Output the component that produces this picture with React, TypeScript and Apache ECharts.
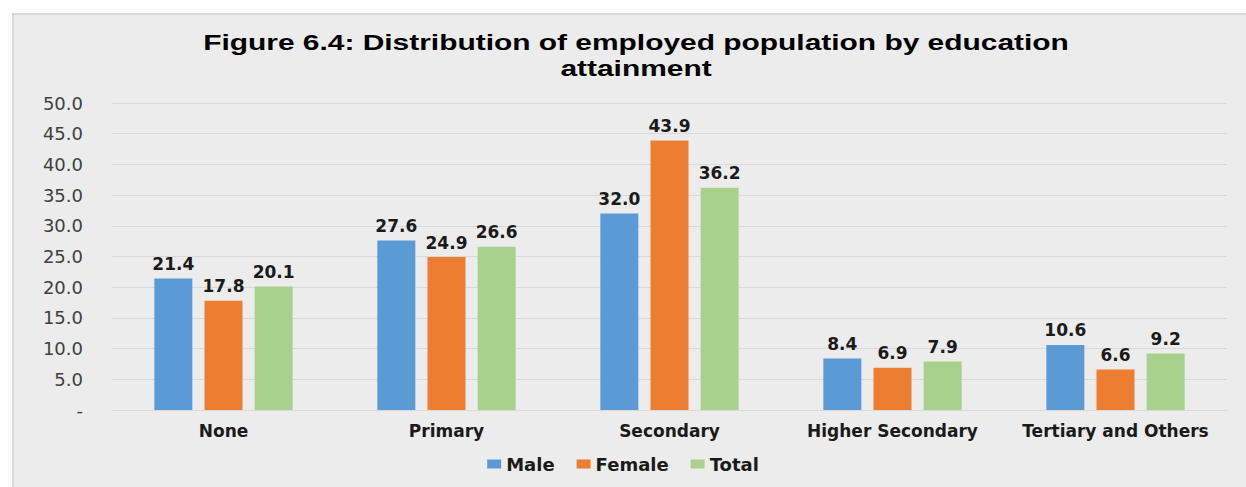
import React, { useEffect, useRef } from "react";
import * as echarts from "echarts";

const categories = ["None", "Primary", "Secondary", "Higher Secondary", "Tertiary and Others"];
const male = [21.4, 27.6, 32.0, 8.4, 10.6];
const female = [17.8, 24.9, 43.9, 6.9, 6.6];
const total = [20.1, 26.6, 36.2, 7.9, 9.2];
const seriesNames = ["Male", "Female", "Total"];
const colors = ["#5b9bd5", "#ed7d31", "#a9d18e"];
const titleLines = ["Figure 6.4: Distribution of employed population by education", "attainment"];

const TITLE_FONT = "'Liberation Sans', Arial, sans-serif";
const FONT = "'DejaVu Sans', sans-serif";

export default function App() {
  const ref = useRef<HTMLDivElement>(null);
  useEffect(() => {
    if (!ref.current) return;
    const chart = echarts.init(ref.current, null, { renderer: "svg" });
    const label = {
      show: true,
      position: "top",
      distance: 6,
      fontFamily: FONT,
      fontWeight: "bold",
      fontSize: 17,
      color: "#1a1a1a",
      formatter: (p: any) => Number(p.value).toFixed(1),
    };
    const data = [male, female, total];
    chart.setOption({
      animation: false,
      backgroundColor: "#ffffff",
      graphic: [
        {
          type: "rect",
          silent: true,
          z: -10,
          shape: { x: 13, y: 14, width: 1250, height: 480 },
          style: { fill: "#ececec", stroke: "#d9d9d9", lineWidth: 2 },
        },
        ...titleLines.map((t, i) => ({
          type: "text",
          silent: true,
          x: 636,
          y: 42 + i * 26,
          scaleX: 1.36,
          style: {
            text: t,
            fontFamily: TITLE_FONT,
            fontWeight: "bold",
            fontSize: 22,
            fill: "#000000",
            align: "center",
            verticalAlign: "middle",
          },
        })),
      ],
      legend: {
        bottom: 9,
        left: "center",
        itemWidth: 14,
        itemHeight: 9,
        itemGap: 22,
        icon: "rect",
        textStyle: { fontFamily: FONT, fontWeight: "bold", fontSize: 18, color: "#1a1a1a" },
        data: seriesNames,
      },
      grid: { left: 112, right: 19, top: 103, bottom: 77 },
      xAxis: {
        type: "category",
        data: categories,
        axisLine: { lineStyle: { color: "#d9d9d9", width: 1 } },
        axisTick: { show: false },
        axisLabel: {
          interval: 0,
          hideOverlap: false,
          fontFamily: FONT,
          fontWeight: "bold",
          fontSize: 17,
          color: "#1a1a1a",
          margin: 12,
        },
      },
      yAxis: {
        type: "value",
        min: 0,
        max: 50,
        interval: 5,
        axisLine: { show: false },
        axisTick: { show: false },
        splitLine: { lineStyle: { color: "#d9d9d9", width: 1 } },
        axisLabel: {
          fontFamily: FONT,
          fontSize: 18,
          color: "#404040",
          margin: 29,
          formatter: (v: number) => (v === 0 ? "-" : v.toFixed(1)),
        },
      },
      series: seriesNames.map((name, i) => ({
        name,
        type: "bar",
        data: data[i],
        barWidth: 38,
        barGap: "32%",
        itemStyle: { color: colors[i] },
        label,
      })),
    });
    return () => chart.dispose();
  }, []);
  return (
    <div
      ref={ref}
      style={{ position: "fixed", left: 0, top: 0, width: 1246, height: 487 }}
    />
  );
}
